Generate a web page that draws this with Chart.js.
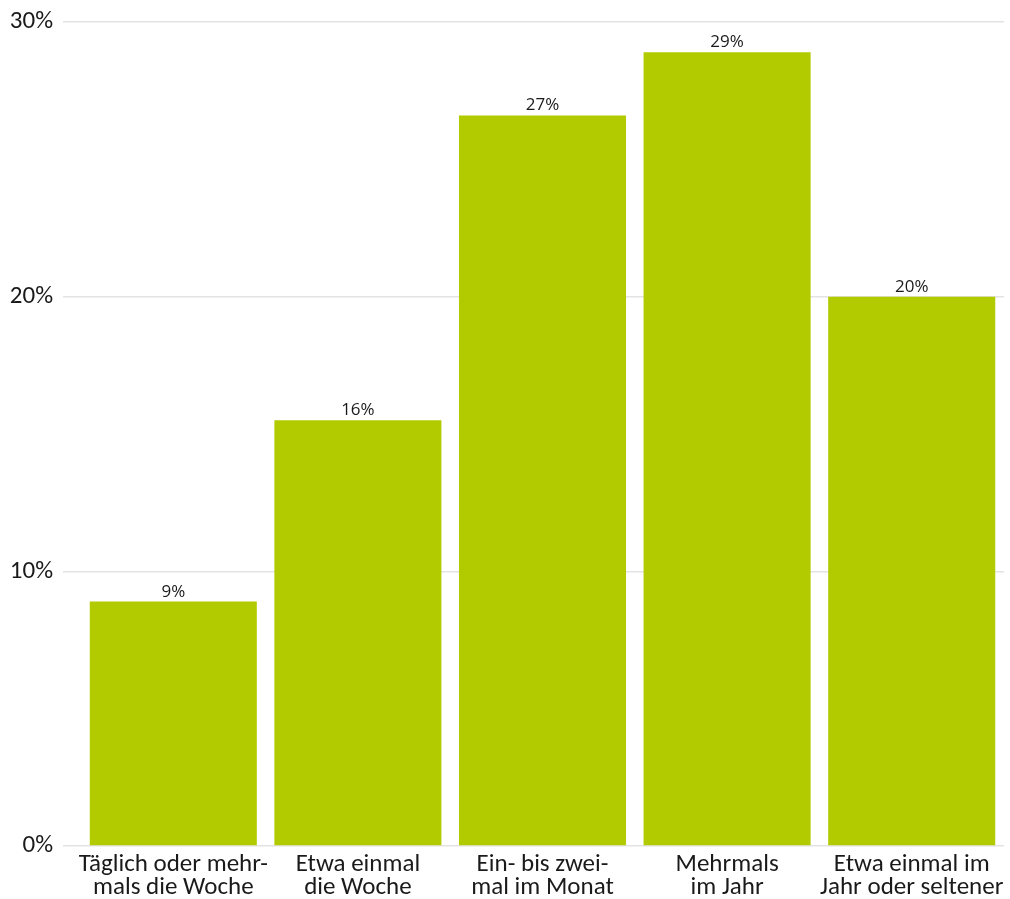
<!DOCTYPE html>
<html><head><meta charset="utf-8">
<script src="https://cdn.jsdelivr.net/npm/chart.js@4"></script>
<style>html,body{margin:0;padding:0;background:#fff}#wrap{width:1010px;height:899px}</style>
</head><body><div id="wrap"><canvas id="c" width="1010" height="899"></canvas></div>
<script>
const categories = [
  ["Täglich oder mehr-", "mals die Woche"],
  ["Etwa einmal", "die Woche"],
  ["Ein- bis zwei-", "mal im Monat"],
  ["Mehrmals", "im Jahr"],
  ["Etwa einmal im", "Jahr oder seltener"]
];
const values = [8.9, 15.5, 26.6, 28.9, 20.0];
const valueLabels = ["9%", "16%", "27%", "29%", "20%"];
const yTicks = [0, 10, 20, 30];

const FONT = "Carlito, Lato, sans-serif";

const labelPlugin = {
  id: 'valueLabels',
  afterDatasetsDraw(chart) {
    const ctx = chart.ctx;
    const meta = chart.getDatasetMeta(0);
    ctx.save();
    ctx.font = "17px 'Open Sans', sans-serif";
    ctx.fillStyle = '#1a1a1a';
    ctx.textAlign = 'center';
    ctx.textBaseline = 'alphabetic';
    meta.data.forEach((el, i) => {
      ctx.fillText(valueLabels[i], el.x, el.y - 5);
    });
    ctx.restore();
  }
};

new Chart(document.getElementById('c'), {
  type: 'bar',
  data: {
    labels: categories,
    datasets: [{
      data: values,
      backgroundColor: '#b2cb00',
      categoryPercentage: 0.905,
      barPercentage: 1.0
    }]
  },
  options: {
    responsive: false,
    animation: false,
    layout: { padding: { top: 22, right: 6, left: 0, bottom: 0 } },
    plugins: { legend: { display: false }, tooltip: { enabled: false }, title: { display: false } },
    scales: {
      x: {
        grid: { display: false, drawTicks: false },
        border: { display: false },
        ticks: { color: '#1a1a1a', font: { family: FONT, size: 25, lineHeight: 0.92 }, maxRotation: 0, autoSkip: false, padding: 7 },
        afterFit(s) { s.height = 53; s.paddingLeft = 0; s.paddingRight = 0; }
      },
      y: {
        min: 0, max: 30,
        afterBuildTicks(s) { s.ticks = yTicks.map(v => ({ value: v })); },
        grid: { color: '#e3e3e3', lineWidth: 1.5, tickLength: 18, drawTicks: true },
        border: { display: false },
        ticks: { color: '#1a1a1a', font: { family: FONT, size: 25 }, padding: 10, callback: v => v + '%' },
        afterFit(s) { s.width = 81; s.paddingTop = 0; s.paddingBottom = 0; }
      }
    }
  },
  plugins: [labelPlugin]
});
</script></body></html>
